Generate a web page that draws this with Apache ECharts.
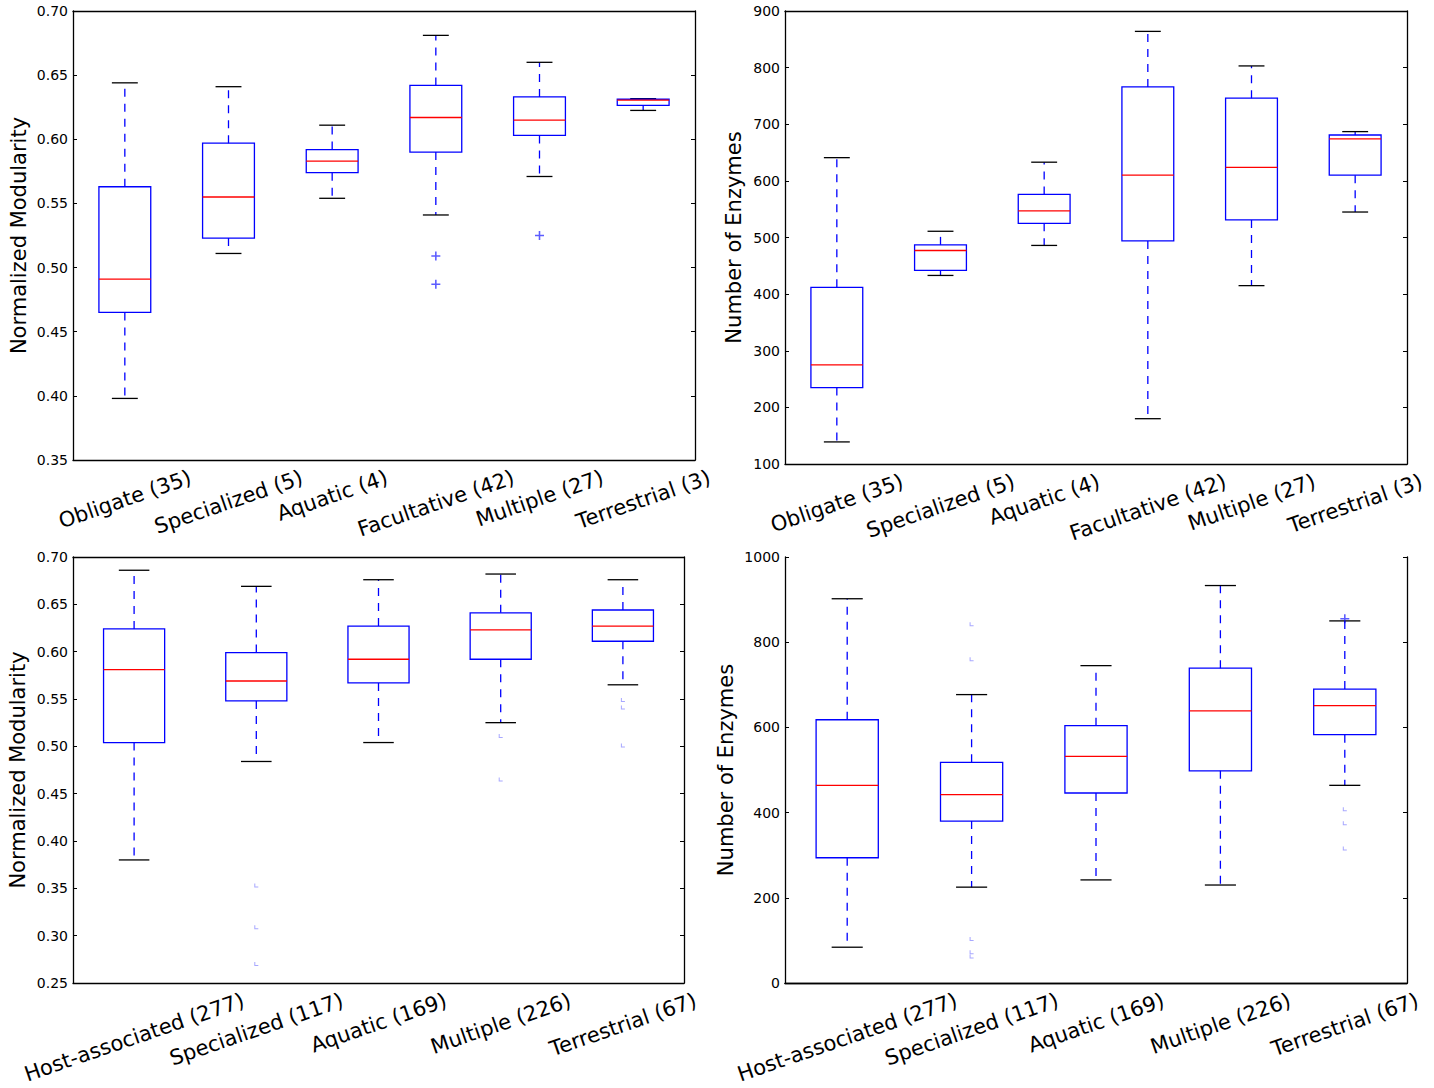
<!DOCTYPE html>
<html>
<head>
<meta charset="utf-8">
<script src="https://cdn.jsdelivr.net/npm/echarts@6/dist/echarts.min.js"></script>
<style>
html, body { margin: 0; padding: 0; background: #fff; }
#main { width: 1434px; height: 1088px; }
</style>
</head>
<body>
<div id="main"></div>
<script>
// categories
var lifestyleCats = ['Obligate (35)', 'Specialized (5)', 'Aquatic (4)', 'Facultative (42)', 'Multiple (27)', 'Terrestrial (3)'];
var habitatCats = ['Host-associated (277)', 'Specialized (117)', 'Aquatic (169)', 'Multiple (226)', 'Terrestrial (67)'];

// box stats per category: [lower whisker, Q1, median, Q3, upper whisker]
var lifestyleModularity = [
    [0.398, 0.465, 0.491, 0.563, 0.644],
    [0.511, 0.523, 0.555, 0.597, 0.641],
    [0.554, 0.574, 0.583, 0.592, 0.611],
    [0.541, 0.590, 0.617, 0.642, 0.681],
    [0.571, 0.603, 0.615, 0.633, 0.660],
    [0.6225, 0.6265, 0.6305, 0.6312, 0.6317]
];
var lifestyleModOutliers = [[3, 0.509], [3, 0.487], [4, 0.525]];

var lifestyleEnzymes = [
    [139, 235, 275, 412, 641],
    [433, 442, 477, 487, 511],
    [486, 525, 547, 576, 633],
    [180, 494, 610, 766, 864],
    [415, 531, 624, 746, 803],
    [545, 610, 674, 681, 687]
];

var habitatModularity = [
    [0.380, 0.504, 0.581, 0.624, 0.686],
    [0.484, 0.548, 0.569, 0.599, 0.669],
    [0.504, 0.567, 0.592, 0.627, 0.676],
    [0.525, 0.592, 0.623, 0.641, 0.682],
    [0.565, 0.611, 0.627, 0.644, 0.676]
];
var habitatModOutliers = [[1, 0.353], [1, 0.309], [1, 0.270], [3, 0.511], [3, 0.465], [4, 0.549], [4, 0.541], [4, 0.501]];

var habitatEnzymes = [
    [84, 294, 464, 618, 902],
    [225, 380, 442, 518, 677],
    [242, 446, 532, 604, 745],
    [230, 498, 639, 739, 933],
    [464, 583, 651, 690, 850]
];
var habitatEnzOutliers = [[1, 842], [1, 760], [1, 103], [1, 72], [1, 62], [4, 408], [4, 375], [4, 316]];
var habitatEnzFlier = [[4, 855]];

// tick labels
var modTicksTop = [0.35, 0.40, 0.45, 0.50, 0.55, 0.60, 0.65, 0.70];
var enzTicksTop = [100, 200, 300, 400, 500, 600, 700, 800, 900];
var modTicksBottom = [0.25, 0.30, 0.35, 0.40, 0.45, 0.50, 0.55, 0.60, 0.65, 0.70];
var enzTicksBottom = [0, 200, 400, 600, 800, 1000];

var FONT = 'DejaVu Sans';
var ROT = 19;
var RAD = ROT * Math.PI / 180;
var LH = 24;
var LABEL_PAD = 5;

var measureCtx = document.createElement('canvas').getContext('2d');
measureCtx.font = '21px "DejaVu Sans"';

var grids = [
    { left: 73, top: 11, width: 622, height: 449 },
    { left: 785, top: 11, width: 622, height: 453 },
    { left: 73, top: 557, width: 611, height: 426 },
    { left: 785, top: 557, width: 622, height: 426 }
];

var lineStyle = { color: '#000', width: 1.3 };
var xAxes = [], yAxes = [];

function addAxes(g, cats, ticks, decimals, name, gap) {
    var min = ticks[0], max = ticks[ticks.length - 1];
    var interval = ticks[1] - ticks[0];
    xAxes.push({
        gridIndex: g, type: 'category', position: 'bottom', data: cats,
        axisLine: { lineStyle: lineStyle },
        axisTick: { inside: true, alignWithLabel: true, length: 4, lineStyle: { color: '#000' } },
        axisLabel: { show: false },
        splitLine: { show: false }
    });
    xAxes.push({
        gridIndex: g, type: 'category', position: 'top', data: cats,
        axisLine: { lineStyle: lineStyle },
        axisTick: { inside: true, alignWithLabel: true, length: 4, lineStyle: { color: '#000' } },
        axisLabel: { show: false },
        splitLine: { show: false }
    });
    yAxes.push({
        gridIndex: g, type: 'value', position: 'left', min: min, max: max, interval: interval,
        name: name, nameLocation: 'middle', nameRotate: 90, nameGap: gap, nameMoveOverlap: false,
        nameTextStyle: { fontSize: 21, fontFamily: FONT, color: '#000' },
        axisLine: { show: true, lineStyle: lineStyle },
        axisTick: { show: true, inside: true, length: 4, lineStyle: { color: '#000' } },
        axisLabel: {
            fontSize: 14, fontFamily: FONT, color: '#000', margin: 5,
            formatter: function (v) { return v.toFixed(decimals); }
        },
        splitLine: { show: false }
    });
    yAxes.push({
        gridIndex: g, type: 'value', position: 'right', min: min, max: max, interval: interval,
        axisLine: { show: true, lineStyle: lineStyle },
        axisTick: { show: true, inside: true, length: 4, lineStyle: { color: '#000' } },
        axisLabel: { show: false },
        splitLine: { show: false }
    });
}

addAxes(0, lifestyleCats, modTicksTop, 2, 'Normalized Modularity', 44);
addAxes(1, lifestyleCats, enzTicksTop, 0, 'Number of Enzymes', 41);
addAxes(2, habitatCats, modTicksBottom, 2, 'Normalized Modularity', 45);
addAxes(3, habitatCats, enzTicksBottom, 0, 'Number of Enzymes', 49);

function renderBox(params, api) {
    var i = api.value(0);
    var lo = api.coord([i, api.value(1)]);
    var q1 = api.coord([i, api.value(2)]);
    var md = api.coord([i, api.value(3)]);
    var q3 = api.coord([i, api.value(4)]);
    var hi = api.coord([i, api.value(5)]);
    var band = api.size([1, 0])[0];
    var x = lo[0], hb = band * 0.25, hc = band * 0.125;
    var dash = { stroke: '#0000ff', lineWidth: 1.3, lineDash: [8, 7] };
    var cap = { stroke: '#000', lineWidth: 1.3 };
    return {
        type: 'group',
        children: [
            { type: 'line', shape: { x1: x, y1: q1[1], x2: x, y2: lo[1] }, style: dash },
            { type: 'line', shape: { x1: x, y1: q3[1], x2: x, y2: hi[1] }, style: dash },
            { type: 'line', shape: { x1: x - hc, y1: lo[1], x2: x + hc, y2: lo[1] }, style: cap },
            { type: 'line', shape: { x1: x - hc, y1: hi[1], x2: x + hc, y2: hi[1] }, style: cap },
            { type: 'rect', shape: { x: x - hb, y: q3[1], width: 2 * hb, height: q1[1] - q3[1] },
              style: { fill: 'rgba(0,0,0,0)', stroke: '#0000ff', lineWidth: 1.3 } },
            { type: 'line', shape: { x1: x - hb, y1: md[1], x2: x + hb, y2: md[1] },
              style: { stroke: '#ff0000', lineWidth: 1.3 } }
        ]
    };
}

function boxSeries(g, stats) {
    return {
        type: 'custom', xAxisIndex: 2 * g, yAxisIndex: 2 * g, renderItem: renderBox,
        encode: { x: 0, y: [1, 2, 3, 4, 5] }, clip: false, silent: true,
        data: stats.map(function (s, i) { return [i].concat(s); })
    };
}

// rotated category labels hung from the axis like matplotlib's (box top-centre at the tick)
function labelSeries(g, cats, ticks) {
    var yMin = ticks[0];
    return {
        type: 'custom', xAxisIndex: 2 * g, yAxisIndex: 2 * g, clip: false, silent: true,
        encode: { x: 0 },
        data: cats.map(function (c, i) { return [i, yMin]; }),
        renderItem: function (params, api) {
            var i = api.value(0);
            var p = api.coord([i, yMin]);
            var text = cats[i];
            var L = measureCtx.measureText(text).width;
            var d = (L * Math.sin(RAD) + LH * Math.cos(RAD)) / 2;
            return {
                type: 'text', x: p[0], y: p[1] + LABEL_PAD + d, rotation: RAD,
                style: {
                    text: text, fontSize: 21, fontFamily: FONT, fill: '#000',
                    align: 'center', verticalAlign: 'middle'
                }
            };
        }
    };
}

var PLUS = 'path://M0,3.3h8v1.4h-8z M3.3,0h1.4v8h-1.4z';
var TICK_L = 'path://M0,0h1v3h3v1h-4z';

function flierSeries(g, pts, symbol, size, color) {
    return {
        type: 'scatter', xAxisIndex: 2 * g, yAxisIndex: 2 * g, symbol: symbol, symbolSize: size,
        itemStyle: { color: color }, silent: true, data: pts, z: 5
    };
}

var myChart = echarts.init(document.getElementById('main'), null, { renderer: 'svg' });
var option = {
    animation: false,
    backgroundColor: '#fff',
    grid: grids.map(function (g) {
        return { left: g.left, top: g.top, width: g.width, height: g.height, outerBoundsMode: 'none', containLabel: false };
    }),
    xAxis: xAxes,
    yAxis: yAxes,
    series: [
        boxSeries(0, lifestyleModularity),
        flierSeries(0, lifestyleModOutliers, PLUS, 9, 'rgba(0,0,255,0.8)'),
        labelSeries(0, lifestyleCats, modTicksTop),
        boxSeries(1, lifestyleEnzymes),
        labelSeries(1, lifestyleCats, enzTicksTop),
        boxSeries(2, habitatModularity),
        flierSeries(2, habitatModOutliers, TICK_L, 4, 'rgba(110,110,255,0.75)'),
        labelSeries(2, habitatCats, modTicksBottom),
        boxSeries(3, habitatEnzymes),
        flierSeries(3, habitatEnzOutliers, TICK_L, 4, 'rgba(110,110,255,0.75)'),
        flierSeries(3, habitatEnzFlier, PLUS, 9, 'rgba(0,0,255,0.8)'),
        labelSeries(3, habitatCats, enzTicksBottom)
    ]
};
myChart.setOption(option);

window.addEventListener('resize', function () {
    myChart.resize();
});
</script>
</body>
</html>
